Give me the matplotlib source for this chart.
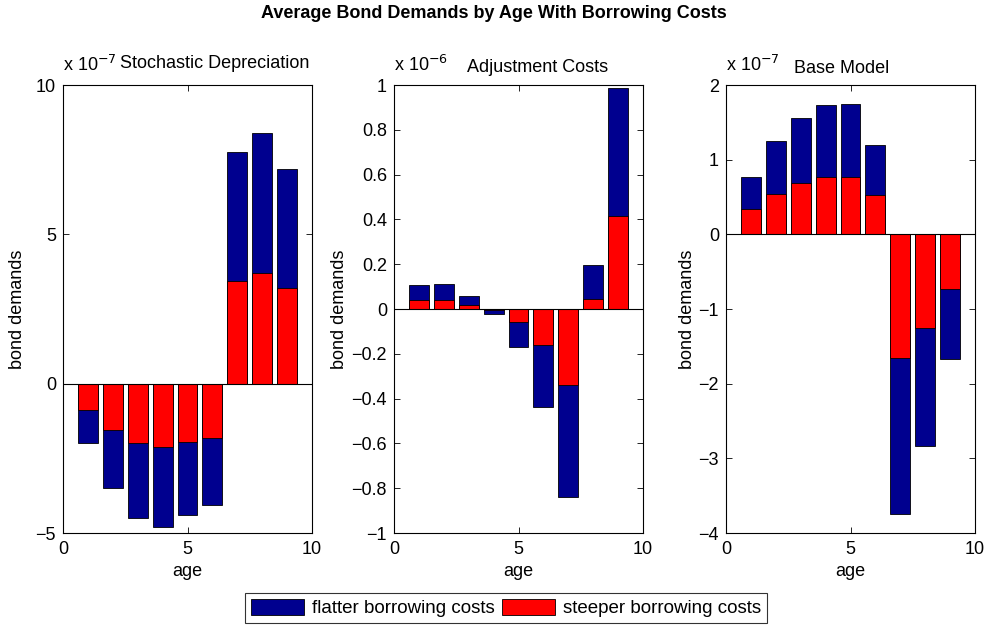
import numpy as np
import matplotlib
matplotlib.use("Agg")
import matplotlib.pyplot as plt
from matplotlib.patches import Patch

plt.rcParams['font.family'] = ['Liberation Sans', 'DejaVu Sans']
plt.rcParams['axes.unicode_minus'] = True

ages = [1, 2, 3, 4, 5, 6, 7, 8, 9]

# Stochastic Depreciation (units of 1e-7)
stoch_flat = [-1.97, -3.51, -4.50, -4.81, -4.40, -4.05, 7.77, 8.38, 7.20]
stoch_steep = [-0.87, -1.56, -1.97, -2.13, -1.94, -1.82, 3.44, 3.69, 3.20]
# Adjustment Costs (units of 1e-6)
adj_flat = [0.109, 0.113, 0.060, -0.023, -0.170, -0.439, -0.840, 0.196, 0.985]
adj_steep = [0.039, 0.039, 0.020, -0.003, -0.059, -0.160, -0.341, 0.043, 0.413]
# Base Model (units of 1e-7)
base_flat = [0.770, 1.244, 1.559, 1.731, 1.749, 1.202, -3.745, -2.831, -1.666]
base_steep = [0.339, 0.543, 0.682, 0.766, 0.770, 0.529, -1.661, -1.248, -0.738]

titles = ["Stochastic Depreciation", "Adjustment Costs", "Base Model"]
exponents = ["-7", "-6", "-7"]
ylims = [(-5, 10), (-1, 1), (-4, 2)]
yticks = [[-5, 0, 5, 10], list(np.round(np.arange(-1, 1.01, 0.2), 1)), [-4, -3, -2, -1, 0, 1, 2]]

FLAT = '#00008F'
STEEP = '#FF0000'
FS = 13

W, H = 989, 626
fig = plt.figure(figsize=(W / 100, H / 100), dpi=100)

lefts = [63, 394, 726]
aw = 249
top, bottom = 85, 533
datasets = [(stoch_flat, stoch_steep), (adj_flat, adj_steep), (base_flat, base_steep)]
ylabel_x = [18, 340, 687]
title_cx = [215, 538, 842]
title_base = [68, 72, 73]

def fmt(v):
    if abs(v) < 1e-9:
        return "0"
    if float(v).is_integer():
        return f"{int(v)}".replace('-', '\u2212')
    return f"{v:.1f}".replace('-', '\u2212')

for i in range(3):
    ax = fig.add_axes([lefts[i] / W, 1 - bottom / H, aw / W, (bottom - top) / H])
    flat, steep = datasets[i]
    ax.bar(ages, flat, width=0.8, color=FLAT, edgecolor='black', linewidth=0.6, zorder=2)
    ax.bar(ages, steep, width=0.8, color=STEEP, edgecolor='black', linewidth=0.6, zorder=3)
    ax.axhline(0, color='black', linewidth=0.8, zorder=4)
    ax.set_xlim(0, 10)
    ax.set_ylim(*ylims[i])
    ax.set_xticks([0, 5, 10])
    ax.set_yticks(yticks[i])
    ax.set_yticklabels([fmt(v) for v in yticks[i]])
    ax.tick_params(direction='in', top=True, right=True, labelsize=FS, length=4, width=0.6)
    ax.tick_params(axis='x', pad=6)
    ax.tick_params(axis='y', pad=5)
    for s in ax.spines.values():
        s.set_linewidth(0.8)
    ax.set_xlabel("age", fontsize=FS)
    ax.xaxis.set_label_coords(0.5, 1 - (572 - top) / (bottom - top))
    ax.xaxis.label.set_va('center')
    ax.set_ylabel("bond demands", fontsize=FS)
    ax.yaxis.set_label_coords((ylabel_x[i] - lefts[i]) / aw, 0.5)
    ax.yaxis.label.set_va('center')
    ax.text(0, 1 + 14 / (bottom - top), "x 10$^{" + exponents[i].replace('-', '\u2212') + "}$",
            transform=ax.transAxes, fontsize=FS, ha='left', va='baseline')
    fig.text(title_cx[i] / W, 1 - title_base[i] / H, titles[i], fontsize=FS, ha='center', va='baseline')

fig.text(494 / W, 1 - 13 / H, "Average Bond Demands by Age With Borrowing Costs",
         ha='center', va='center', fontsize=13, fontweight='bold')

handles = [Patch(facecolor=FLAT, edgecolor='black', linewidth=0.6, label='flatter borrowing costs'),
           Patch(facecolor=STEEP, edgecolor='black', linewidth=0.6, label='steeper borrowing costs')]
leg = fig.legend(handles=handles, loc='center', bbox_to_anchor=(506 / W, 1 - 608 / H), ncol=2,
                 fontsize=13.5, frameon=True, fancybox=False, edgecolor='black', handlelength=2.85,
                 handleheight=0.95, columnspacing=0.37, handletextpad=0.43, borderpad=0.3,
                 borderaxespad=0)
leg.get_frame().set_linewidth(0.8)

fig.savefig("out.png", dpi=100)
